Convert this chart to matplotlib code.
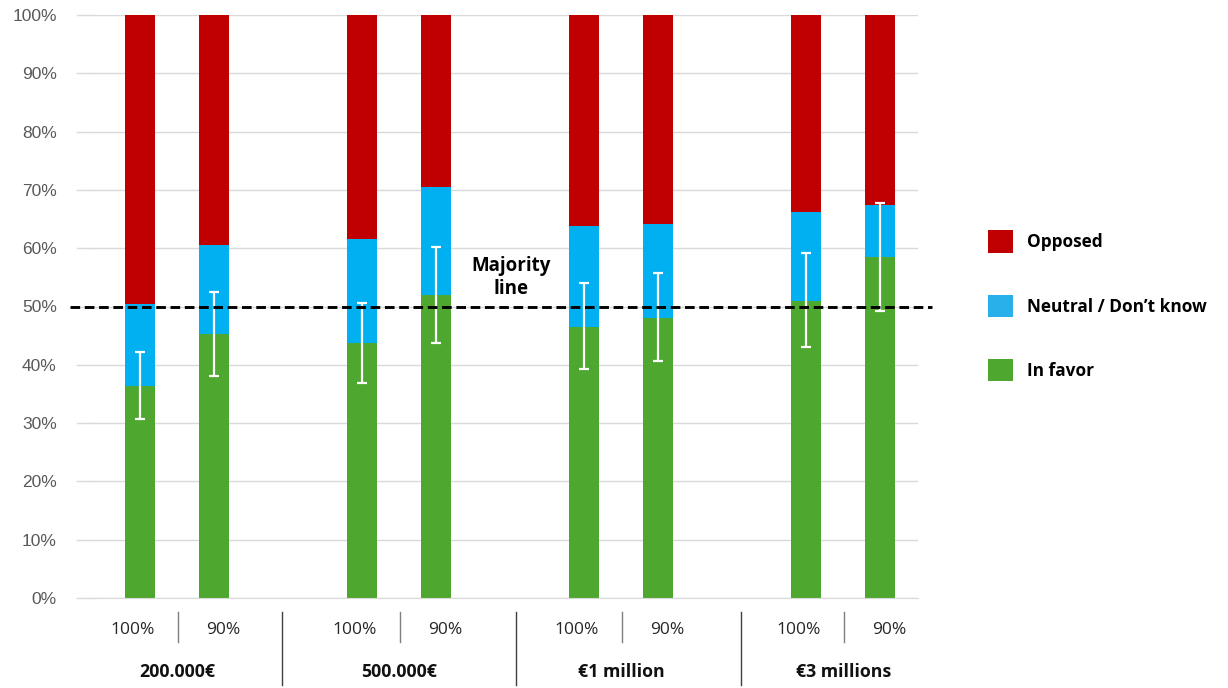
import matplotlib
matplotlib.use("Agg")
import matplotlib.pyplot as plt
from matplotlib.patches import Patch

# Survey results per wealth threshold and tax rate (percent of respondents)
thresholds = ["200.000€", "500.000€", "€1 million", "€3 millions"]
rates = ["100%", "90%"]
in_favor = [36.4, 45.3, 43.7, 51.9, 46.5, 48.1, 50.9, 58.5]
neutral_top = [50.4, 60.5, 61.5, 70.5, 63.8, 64.1, 66.2, 67.4]  # cumulative: in favor + neutral
ci_low = [30.7, 38.1, 36.9, 43.8, 39.2, 40.6, 43.0, 49.3]
ci_high = [42.2, 52.5, 50.6, 60.2, 54.0, 55.8, 59.1, 67.8]
y_ticks = [0, 10, 20, 30, 40, 50, 60, 70, 80, 90, 100]
majority = 50

neutral = [t - f for t, f in zip(neutral_top, in_favor)]
opposed = [100 - t for t in neutral_top]

RED = "#C00000"
BLUE = "#00B0F0"
GREEN = "#4EA72E"
LABEL_FONT = ["Open Sans", "DejaVu Sans"]

fig = plt.figure(figsize=(12.28, 6.88), dpi=100)
ax = fig.add_axes([95 / 1228, 1 - 598 / 688, (918 - 95) / 1228, (598 - 15) / 688])

# bar positions: two bars per threshold, groups three units apart
xs = [g * 3 + r for g in range(len(thresholds)) for r in range(len(rates))]
width = 0.405

ax.bar(xs, in_favor, width, color=GREEN, zorder=2)
ax.bar(xs, neutral, width, bottom=in_favor, color=BLUE, zorder=2)
ax.bar(xs, opposed, width, bottom=neutral_top, color=RED, zorder=2)

# confidence intervals around the "in favor" share
yerr = [[f - lo for f, lo in zip(in_favor, ci_low)],
        [hi - f for f, hi in zip(in_favor, ci_high)]]
ax.errorbar(xs, in_favor, yerr=yerr, fmt="none", ecolor="white",
            elinewidth=1.6, capsize=3.5, capthick=1.6, zorder=3)

ax.set_xlim(-0.608, 10.51)
ax.set_ylim(0, 100)
ax.set_yticks(y_ticks)
ax.set_yticklabels([f"{v}%" for v in y_ticks], color="#595959",
                   fontsize=12.5, family=["Liberation Sans", "DejaVu Sans"])
ax.tick_params(axis="y", length=0, pad=27.5)
ax.set_xticks([])
ax.grid(axis="y", color="#D9D9D9", linewidth=1, zorder=0)
for side in ["top", "right", "left"]:
    ax.spines[side].set_visible(False)
ax.spines["bottom"].set_color("#D9D9D9")

# gridline stubs to the left of the plot area
for v in y_ticks:
    ax.plot([-0.85, -0.608], [v, v], color="#D9D9D9", lw=1, clip_on=False, zorder=0)

# majority line spanning beyond the plot area
ax.plot([-0.95, 10.7], [majority, majority], color="black", lw=2.1,
        linestyle=(0, (3.3, 1.6)), clip_on=False, zorder=4)
ax.text(5.01, 55.0, "Majority\nline", ha="center", va="center", fontsize=13.5,
        fontweight="bold", family=LABEL_FONT, linespacing=1.2, zorder=5)

# category labels below the axis
trans = ax.get_xaxis_transform()
for i, x in enumerate(xs):
    off = -0.1 if i % 2 == 0 else 0.12
    ax.text(x + off, -0.055, rates[i % 2], ha="center", va="center",
            fontsize=12.5, family=LABEL_FONT, color="#262626", transform=trans)
for g, name in enumerate(thresholds):
    ax.text(g * 3 + 0.5, -0.127, name, ha="center", va="center", fontsize=12.8,
            fontweight="bold", family=LABEL_FONT, color="#111111", transform=trans)
    ax.plot([g * 3 + 0.51, g * 3 + 0.51], [-0.024, -0.075], color="#7F7F7F", lw=1,
            transform=trans, clip_on=False)
for sx in [1.92, 5.08, 8.12]:
    ax.plot([sx, sx], [-0.024, -0.149], color="#404040", lw=1,
            transform=trans, clip_on=False)

handles = [Patch(facecolor=RED, label="Opposed"),
           Patch(facecolor="#29B0EA", label="Neutral / Don\u2019t know"),
           Patch(facecolor=GREEN, label="In favor")]
fig.legend(handles=handles, loc="upper left", bbox_to_anchor=(972 / 1228, 1 - 215 / 688),
           frameon=False, prop={"family": LABEL_FONT, "weight": "bold", "size": 12.4},
           handlelength=1.5, handleheight=1.6, labelspacing=2.45, handletextpad=0.8)

fig.savefig("out.png", dpi=100)
